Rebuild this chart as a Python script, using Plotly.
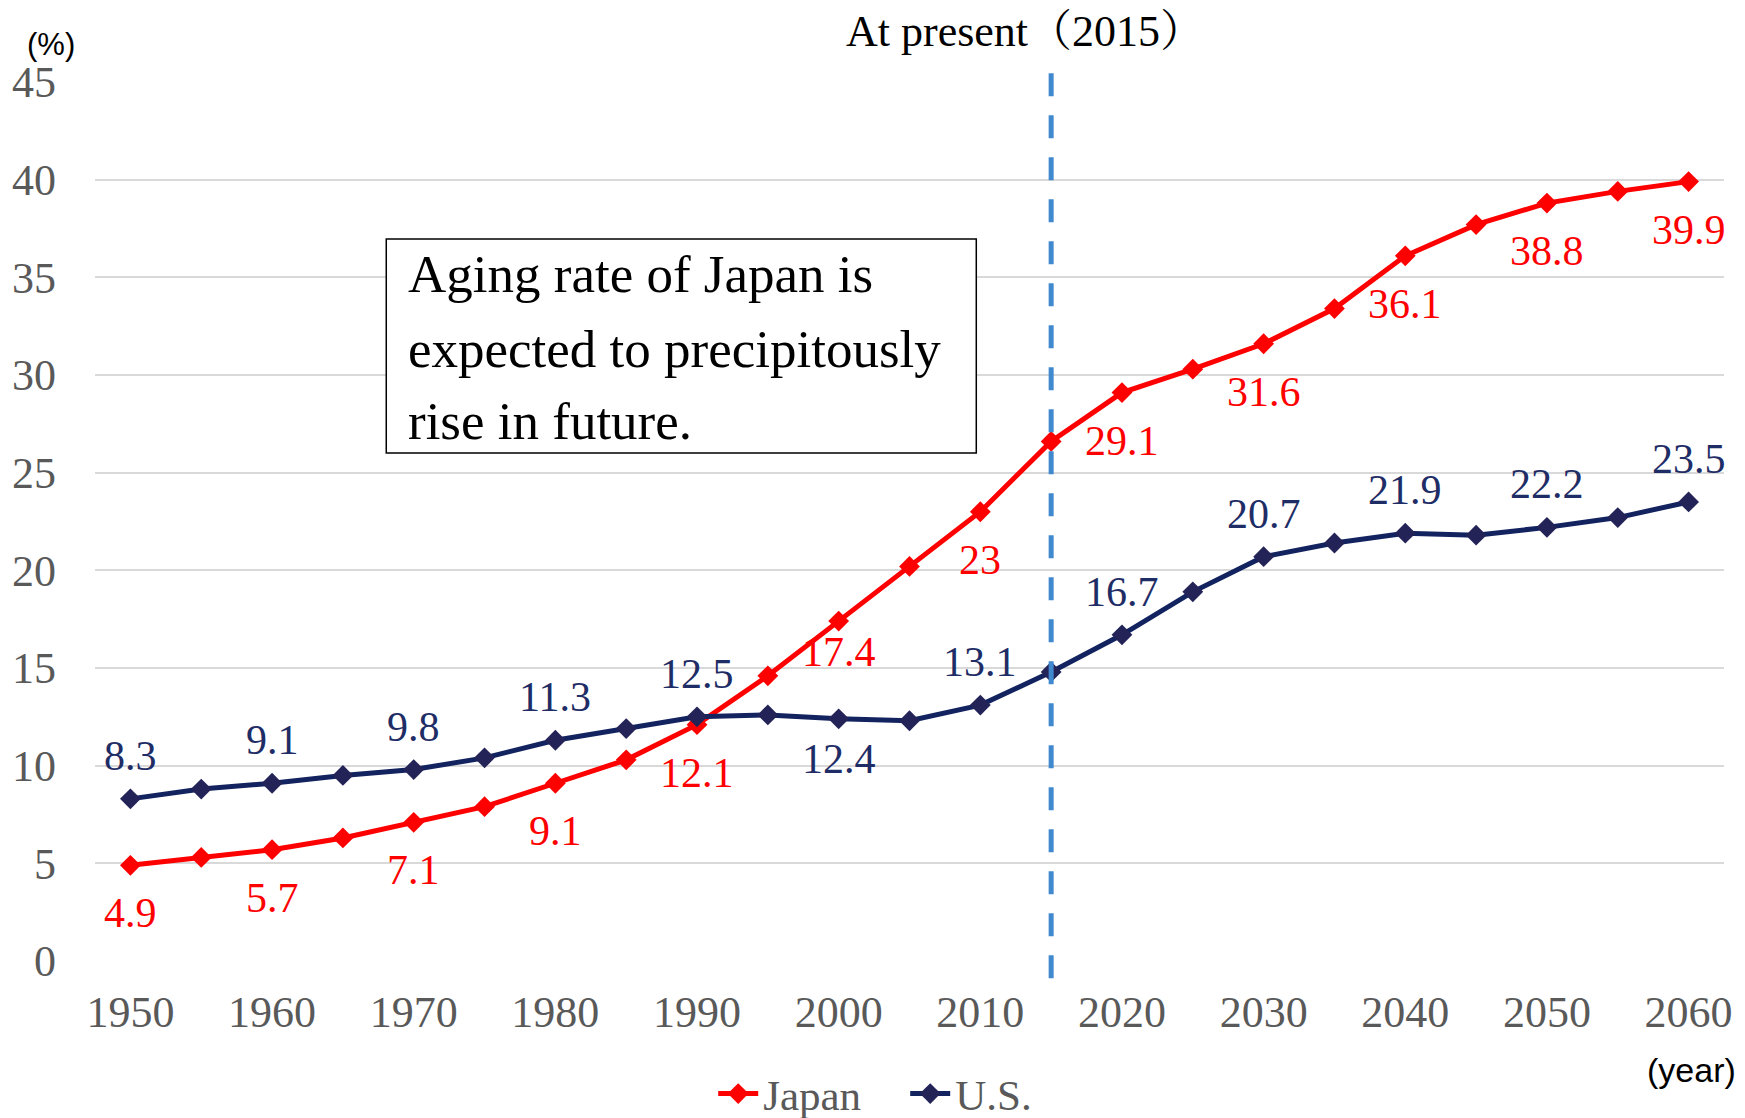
import plotly.graph_objects as go

years = [1950, 1955, 1960, 1965, 1970, 1975, 1980, 1985, 1990, 1995, 2000, 2005,
         2010, 2015, 2020, 2025, 2030, 2035, 2040, 2045, 2050, 2055, 2060]
japan = [4.9, 5.3, 5.7, 6.3, 7.1, 7.9, 9.1, 10.3, 12.1, 14.6, 17.4, 20.2,
         23.0, 26.6, 29.1, 30.3, 31.6, 33.4, 36.1, 37.7, 38.8, 39.4, 39.9]
us = [8.3, 8.8, 9.1, 9.5, 9.8, 10.4, 11.3, 11.9, 12.5, 12.6, 12.4, 12.3,
      13.1, 14.8, 16.7, 18.9, 20.7, 21.4, 21.9, 21.8, 22.2, 22.7, 23.5]
japan_labels = ["4.9", "", "5.7", "", "7.1", "", "9.1", "", "12.1", "", "17.4", "",
                "23", "", "29.1", "", "31.6", "", "36.1", "", "38.8", "", "39.9"]
us_labels = ["8.3", "", "9.1", "", "9.8", "", "11.3", "", "12.5", "", "12.4", "",
             "13.1", "", "16.7", "", "20.7", "", "21.9", "", "22.2", "", "23.5"]
us_below_years = [2000]
japan_close_years = [2000]
tick_years = [1950, 1960, 1970, 1980, 1990, 2000, 2010, 2020, 2030, 2040, 2050, 2060]
present_year = 2015
note_lines = ["Aging rate of Japan is", "expected to precipitously", "rise in future."]

SERIF = "Liberation Serif, Times New Roman, Noto Serif CJK JP, Noto Sans CJK JP, serif"
SANS = "Liberation Sans, Arial, Noto Sans CJK JP, sans-serif"
RED = "#FF0000"
NAVY_LINE = "#12235F"
NAVY_MARK = "#232358"
NAVY_TEXT = "#1F2D66"

fig = go.Figure()
fig.add_trace(go.Scatter(
    x=years, y=japan, name="Japan", mode="lines+markers",
    line=dict(color=RED, width=5),
    marker=dict(symbol="diamond", size=16, color=RED),
))
fig.add_trace(go.Scatter(
    x=years, y=us, name="U.S.", mode="lines+markers",
    line=dict(color=NAVY_LINE, width=5),
    marker=dict(symbol="diamond", size=16, color=NAVY_MARK),
))

# data labels
for x, v, t in zip(years, japan, japan_labels):
    if t:
        shift = -31 if x in japan_close_years else -48
        fig.add_annotation(x=x, y=v, text=t, showarrow=False, yshift=shift,
                           font=dict(family=SERIF, size=42, color=RED))
for x, v, t in zip(years, us, us_labels):
    if t:
        shift = -40 if x in us_below_years else 43
        fig.add_annotation(x=x, y=v, text=t, showarrow=False, yshift=shift,
                           font=dict(family=SERIF, size=42, color=NAVY_TEXT))

# vertical dashed line at present (drawn top to bottom so the dash pattern starts at the top)
fig.add_shape(type="line", xref="x", yref="paper", x0=present_year, x1=present_year,
              y0=1.01, y1=-0.033, line=dict(color="#4189CE", width=5, dash="23px,19px"))

# note box
fig.add_shape(type="rect", xref="paper", yref="paper", x0=0.1788, x1=0.541, y0=0.578, y1=0.8214,
              line=dict(color="black", width=1.5), fillcolor="white", layer="above")
line_ys = [0.7816, 0.6963, 0.6143]
for t, yy in zip(note_lines, line_ys):
    fig.add_annotation(xref="paper", yref="paper", x=0.1912, y=yy, xanchor="left", yanchor="middle",
                       text=t, showarrow=False, font=dict(family=SERIF, size=53, color="black"))

fig.add_annotation(xref="paper", yref="paper", x=0.571, y=1.058, xanchor="center", yanchor="middle",
                   text="At present（2015）", showarrow=False,
                   font=dict(family=SERIF, size=44, color="black"))
fig.add_annotation(xref="paper", yref="paper", x=-0.027, y=1.043, xanchor="center", yanchor="middle",
                   text="(%)", showarrow=False, font=dict(family=SANS, size=31, color="black"))
fig.add_annotation(xref="paper", yref="paper", x=0.980, y=-0.124, xanchor="center", yanchor="middle",
                   text="(year)", showarrow=False, font=dict(family=SANS, size=34, color="black"))

fig.update_layout(
    width=1737, height=1110,
    margin=dict(l=86.6, r=21, t=74, b=157, autoexpand=False),
    paper_bgcolor="white", plot_bgcolor="white",
    showlegend=True,
    legend=dict(orientation="h", x=0.3795, y=0.022, xref="paper", yref="container",
                xanchor="left", yanchor="middle",
                font=dict(family=SERIF, size=43, color="#595959"), itemwidth=40,
                entrywidth=137, entrywidthmode="pixels",
                bgcolor="rgba(0,0,0,0)"),
    xaxis=dict(range=[1947.5, 2062.5], tickvals=tick_years, showgrid=False, zeroline=False,
               showline=False, ticks="", ticklabelstandoff=21, automargin=False,
               tickfont=dict(family=SERIF, size=44, color="#595959")),
    yaxis=dict(range=[0, 45], dtick=5, showgrid=True, gridcolor="#D9D9D9", gridwidth=1.5,
               zeroline=False, showline=False, ticks="", ticklabelstandoff=38, automargin=False,
               tickfont=dict(family=SERIF, size=44, color="#595959")),
)

fig.write_html("out.html")
